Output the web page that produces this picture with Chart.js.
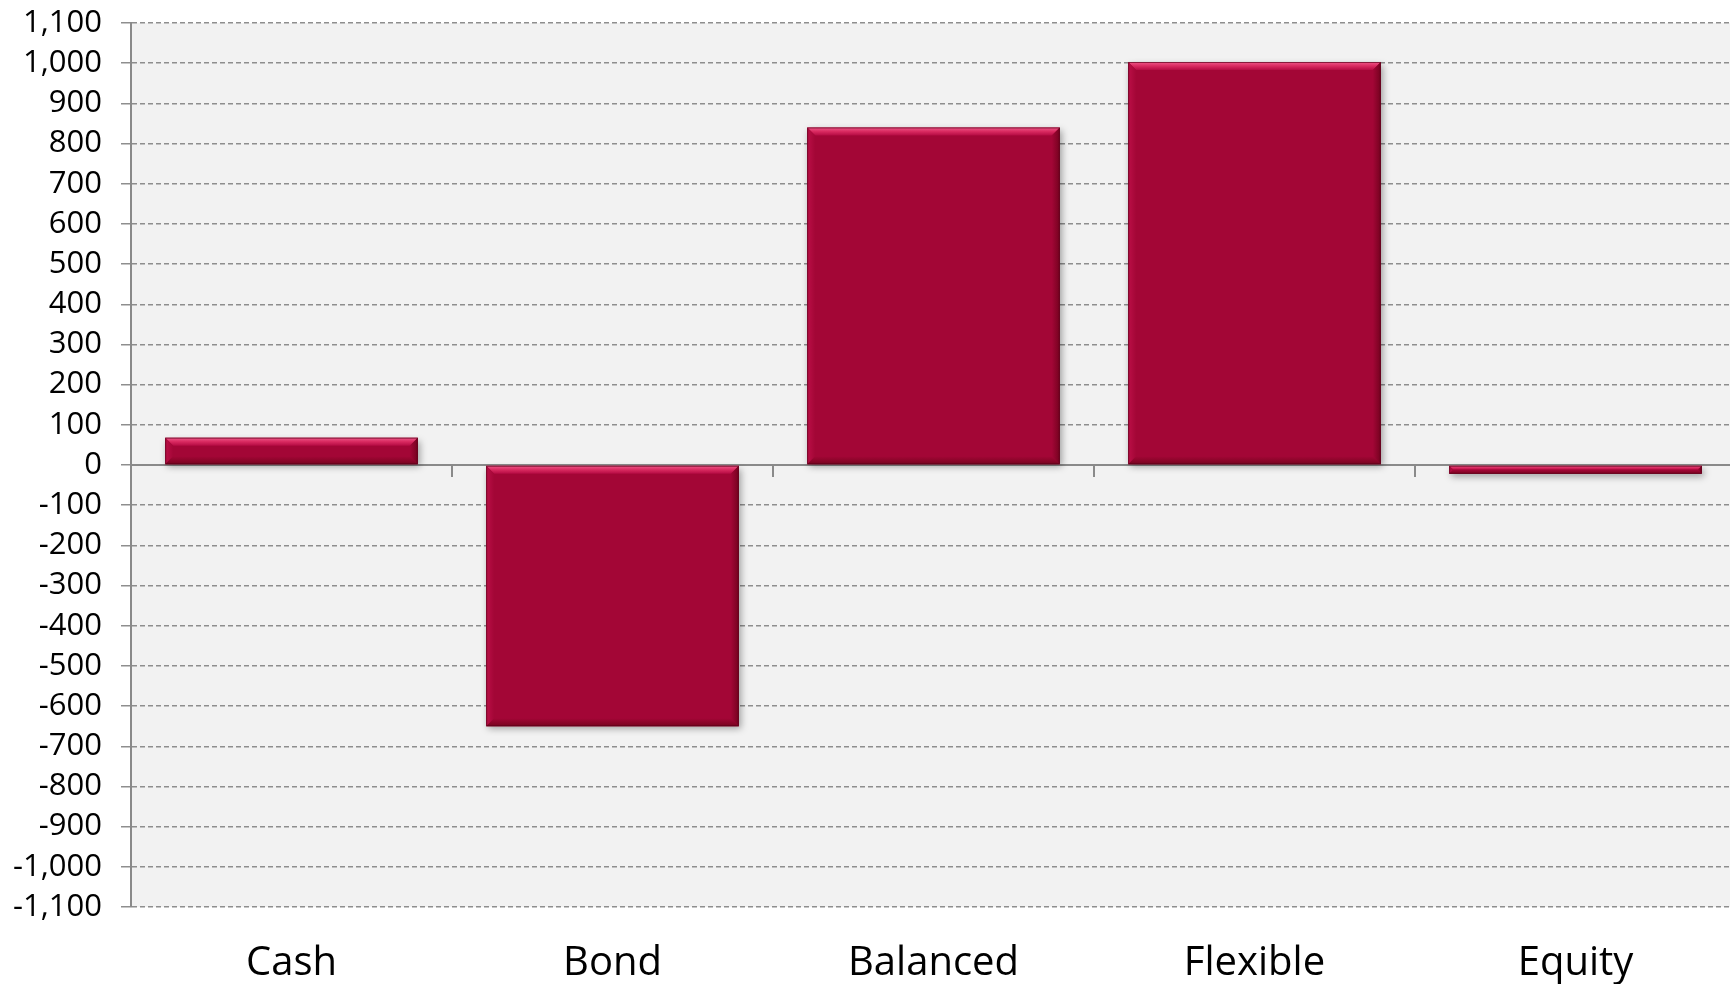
<!DOCTYPE html>
<html>
<head>
<meta charset="utf-8">
<script src="https://cdn.jsdelivr.net/npm/chart.js@4/dist/chart.umd.min.js"></script>
<style>
html, body { margin: 0; padding: 0; background: #fff; overflow: hidden; }
#wrap { position: relative; width: 1736px; height: 984px; }
</style>
</head>
<body>
<div id="wrap"><canvas id="myChart"></canvas></div>
<script>
const categories = ['Cash', 'Bond', 'Balanced', 'Flexible', 'Equity'];
const flows = [68, -650, 840, 1003, -22];
const yTickValues = [-1100, -1000, -900, -800, -700, -600, -500, -400, -300, -200, -100,
    0, 100, 200, 300, 400, 500, 600, 700, 800, 900, 1000, 1100];

const barColor = '#a30636';
const gridColor = '#8e8e8e';

// grey plot area, zero line with category ticks, bar shadow
const plotDecor = {
    id: 'plotDecor',
    beforeDraw(chart) {
        const { ctx, chartArea: a } = chart;
        ctx.save();
        ctx.fillStyle = '#f2f2f2';
        ctx.fillRect(a.left, a.top, a.right - a.left, a.bottom - a.top);
        ctx.restore();
    },
    beforeDatasetsDraw(chart) {
        const { ctx, chartArea: a, scales } = chart;
        const y0 = scales.y.getPixelForValue(0);
        ctx.save();
        ctx.strokeStyle = '#8a8a8a';
        ctx.lineWidth = 2;
        ctx.beginPath();
        ctx.moveTo(a.left, y0);
        ctx.lineTo(a.right, y0);
        for (let i = 0; i < categories.length - 1; i++) {
            const xb = (scales.x.getPixelForValue(i) + scales.x.getPixelForValue(i + 1)) / 2;
            ctx.moveTo(xb, y0);
            ctx.lineTo(xb, y0 + 12);
        }
        ctx.stroke();
        ctx.restore();

        ctx.save();
        ctx.shadowColor = 'rgba(0,0,0,0.35)';
        ctx.shadowBlur = 7;
        ctx.shadowOffsetX = 2;
        ctx.shadowOffsetY = 3;
    },
    afterDatasetsDraw(chart) {
        const { ctx } = chart;
        ctx.restore();
        // bevel on each bar
        chart.getDatasetMeta(0).data.forEach(el => {
            const p = el.getProps(['x', 'y', 'base', 'width'], true);
            const l = p.x - p.width / 2, r = p.x + p.width / 2;
            const t = Math.min(p.y, p.base), b = Math.max(p.y, p.base);
            const s = Math.min(8, (b - t) / 2);
            ctx.save();
            const poly = (pts, fill) => {
                ctx.beginPath();
                ctx.moveTo(pts[0][0], pts[0][1]);
                pts.slice(1).forEach(q => ctx.lineTo(q[0], q[1]));
                ctx.closePath();
                ctx.fillStyle = fill;
                ctx.fill();
            };
            const gTop = ctx.createLinearGradient(0, t, 0, t + s);
            gTop.addColorStop(0, '#f0588a');
            gTop.addColorStop(0.5, '#d92a60');
            gTop.addColorStop(1, '#b50b43');
            poly([[l, t], [r, t], [r - s, t + s], [l + s, t + s]], gTop);
            const gL = ctx.createLinearGradient(l, 0, l + s, 0);
            gL.addColorStop(0, '#bb0f47');
            gL.addColorStop(1, barColor);
            poly([[l, t], [l + s, t + s], [l + s, b - s], [l, b]], gL);
            const gR = ctx.createLinearGradient(r - s, 0, r, 0);
            gR.addColorStop(0, barColor);
            gR.addColorStop(1, '#74021f');
            poly([[r, t], [r - s, t + s], [r - s, b - s], [r, b]], gR);
            const gB = ctx.createLinearGradient(0, b - s, 0, b);
            gB.addColorStop(0, barColor);
            gB.addColorStop(1, '#78031f');
            poly([[l, b], [l + s, b - s], [r - s, b - s], [r, b]], gB);
            ctx.strokeStyle = 'rgba(90,0,25,0.7)';
            ctx.lineWidth = 1;
            ctx.strokeRect(l + 0.5, t + 0.5, r - l - 1, b - t - 1);
            ctx.restore();
        });
    }
};

const ctx = document.getElementById('myChart').getContext('2d');
new Chart(ctx, {
    type: 'bar',
    data: {
        labels: categories,
        datasets: [{
            data: flows,
            backgroundColor: barColor,
            borderWidth: 0,
            categoryPercentage: 1,
            barPercentage: 0.787
        }]
    },
    options: {
        responsive: true,
        maintainAspectRatio: false,
        animation: false,
        layout: { padding: { top: 23, right: 0, bottom: 0, left: 0 } },
        plugins: {
            legend: { display: false },
            tooltip: { enabled: false }
        },
        scales: {
            x: {
                grid: { display: false },
                border: { display: false },
                ticks: {
                    color: '#000',
                    padding: 25,
                    font: { family: 'Open Sans', size: 40 }
                },
                afterFit(scale) { scale.height = 77; }
            },
            y: {
                min: -1100,
                max: 1100,
                afterBuildTicks(scale) {
                    scale.ticks = yTickValues.map(v => ({ value: v }));
                },
                grid: {
                    color: gridColor,
                    lineWidth: 1.5,
                    tickLength: 10,
                    tickColor: gridColor,
                    tickWidth: 1.5
                },
                border: { display: true, color: '#8a8a8a', width: 2, dash: [5, 3] },
                ticks: {
                    color: '#000',
                    padding: 19,
                    autoSkip: false,
                    font: { family: 'Open Sans', size: 31 },
                    callback: v => v.toLocaleString('en-US')
                },
                afterFit(scale) {
                    scale.width = 131;
                    scale.paddingTop = 0;
                    scale.paddingBottom = 0;
                }
            }
        }
    },
    plugins: [plotDecor]
});
</script>
</body>
</html>
